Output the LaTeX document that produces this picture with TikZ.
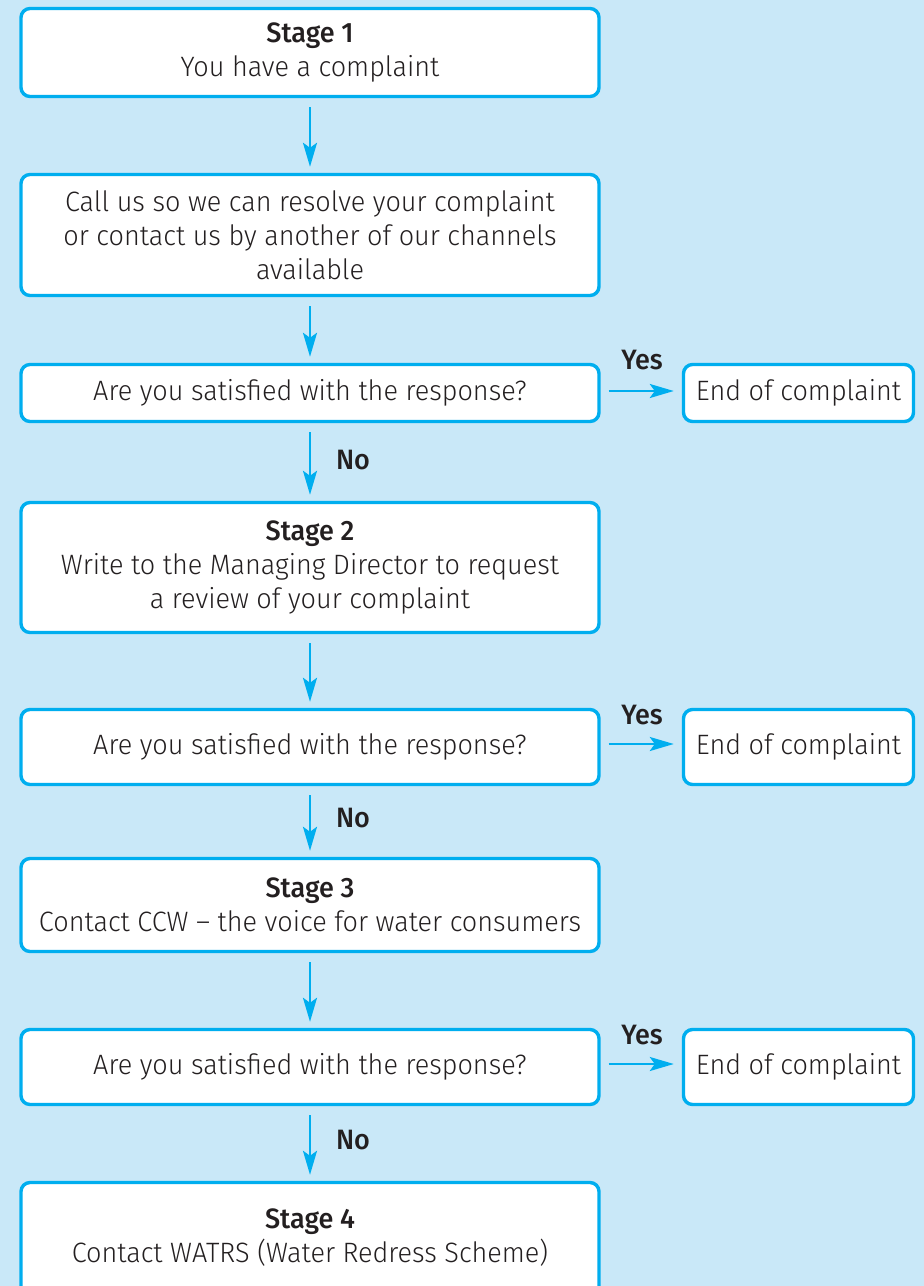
\documentclass[tikz,border=0pt]{standalone}
\usepackage{fontspec}
\setmainfont{Fira Sans}[UprightFont={* Light}, BoldFont={* Medium}, FakeStretch=0.965]
\usetikzlibrary{arrows.meta}
\definecolor{bgc}{RGB}{201,232,248}
\definecolor{cyanb}{RGB}{0,174,239}
\definecolor{txt}{RGB}{35,31,32}
\tikzset{
  box/.style={draw=cyanb, line width=3.4pt, fill=white, rounded corners=9pt,
    minimum width=578pt, align=center, inner sep=0pt, text=txt,
    font=\fontsize{28}{34}\selectfont},
  endbox/.style={box, minimum width=230pt},
  arr/.style={draw=cyanb, line width=2.5pt,
    -{Stealth[length=24pt,width=14pt,inset=5pt]}},
  down/.style={arr, shorten <=9pt, shorten >=6pt},
  lbl/.style={text=txt, inner sep=0pt, font=\fontsize{28}{30}\selectfont\bfseries}
}
\begin{document}
\begin{tikzpicture}[x=1pt,y=-1pt]
\useasboundingbox (0,0) rectangle (924,1286);
\clip (0,0) rectangle (924,1286);
\fill[bgc] (0,0) rectangle (924,1286);

\node[box, minimum height=88pt] (b1) at (310,52.5) {{\bfseries Stage 1}\\You have a complaint};
\node[box, minimum height=121pt] (b2) at (310,235) {Call us so we can resolve your complaint\\or contact us by another of our channels\\available};
\node[box, minimum height=57pt] (q1) at (310,393) {Are you satisfied with the response?};
\node[endbox, minimum height=57pt] (e1) at (798.5,393) {End of complaint};
\node[box, minimum height=130pt] (s2) at (310,567.5) {{\bfseries Stage 2}\\Write to the Managing Director to request\\a review of your complaint};
\node[box, minimum height=75pt] (q2) at (310,747) {Are you satisfied with the response?};
\node[endbox, minimum height=75pt] (e2) at (798.5,747) {End of complaint};
\node[box, minimum height=93pt] (s3) at (310,905) {{\bfseries Stage 3}\\Contact CCW -- the voice for water consumers};
\node[box, minimum height=75pt] (q3) at (310,1067) {Are you satisfied with the response?};
\node[endbox, minimum height=75pt] (e3) at (798.5,1067) {End of complaint};
\node[box, minimum height=140pt] (s4) at (310,1252.5) {};
\node[text=txt, align=center, inner sep=0pt, font=\fontsize{28}{34}\selectfont] (s4t) at (310,1238) {{\bfseries Stage 4}\\Contact WATRS (Water Redress Scheme)};

\draw[down] (b1) -- (b2);
\draw[down] (b2) -- (q1);
\draw[down] (q1) -- (s2);
\draw[down] (s2) -- (q2);
\draw[down] (q2) -- (s3);
\draw[down] (s3) -- (q3);
\draw[down] (q3) -- (s4);

\draw[arr] ([xshift=8pt,yshift=2pt]q1.east) -- ([xshift=-8pt,yshift=2pt]q1.east -| e1.west);
\draw[arr] ([xshift=8pt,yshift=3pt]q2.east) -- ([xshift=-8pt,yshift=3pt]q2.east -| e2.west);
\draw[arr] ([xshift=8pt,yshift=3pt]q3.east) -- ([xshift=-8pt,yshift=3pt]q3.east -| e3.west);

\node[lbl] (y1) at (642,360) {Yes};
\node[lbl] (y2) at (642,715) {Yes};
\node[lbl] (y3) at (642,1035) {Yes};
\node[lbl] (n1) at (353,460) {No};
\node[lbl] (n2) at (353,818) {No};
\node[lbl] (n3) at (353,1140) {No};
\end{tikzpicture}
\end{document}
